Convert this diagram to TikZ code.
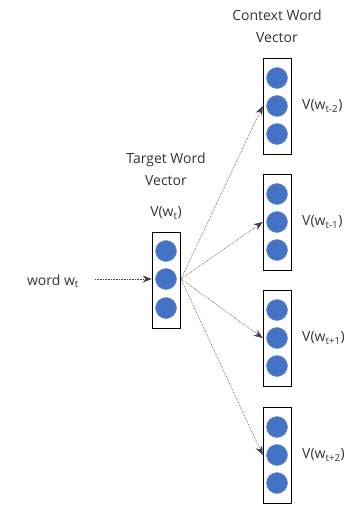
\documentclass[tikz,border=0pt]{standalone}
\usepackage{fontspec}
\setmainfont{Open Sans}
\usetikzlibrary{arrows.meta}
\definecolor{cblue}{HTML}{4472C4}
\tikzset{
  vecbox/.style={draw=black, line width=0.6pt, minimum width=28pt, minimum height=96pt, inner sep=0pt, fill=white},
  unit/.style={circle, fill=cblue, draw=cblue!80!white, line width=0.5pt, minimum size=21pt, inner sep=0pt},
  lbl/.style={font=\fontsize{14}{22}\selectfont, text=black!80, inner sep=0pt},
  conn/.style={densely dotted, line width=0.6pt, draw=black!75, -{Stealth[length=9pt,width=7pt]}},
}
\begin{document}
\begin{tikzpicture}[x=1pt,y=-1pt]
\useasboundingbox (0,0) rectangle (360,505);
% target vector
\node[vecbox] (T) at (166,280) {};
\node[unit] (t1) at (166,251) {};
\node[unit] (t2) at (166,279) {};
\node[unit] (t3) at (166,308) {};
\node[lbl, align=center] (ttitle) at (166,169) {Target Word\\Vector};
\node[lbl] (vt) at (166,213) {V(w\textsubscript{t})};
\node[lbl] (word) at (53,281) {word w\textsubscript{t}};
% context vectors
\foreach \i/\y/\s in {1/106/t-2, 2/222/t-1, 3/338/t+1, 4/455/t+2}{
  \node[vecbox] (C\i) at (277,\y) {};
  \node[unit] (c\i a) at (277,\y-28) {};
  \node[unit] (c\i b) at (277,\y) {};
  \node[unit] (c\i c) at (277,\y+28) {};
  \node[lbl, anchor=west] (v\i) at (302,\y) {V(w\textsubscript{\s})};
}
\node[lbl, align=center] (ctitle) at (277,26) {Context Word\\Vector};
% connectors
\coordinate (src) at (181,279);
\coordinate (ws) at (95,279);
\draw[conn] (ws) -- (T.west |- ws);
\foreach \i in {1,2,3,4}{
  \draw[conn] (src) -- (C\i.west |- c\i b);
}
\end{tikzpicture}
\end{document}
